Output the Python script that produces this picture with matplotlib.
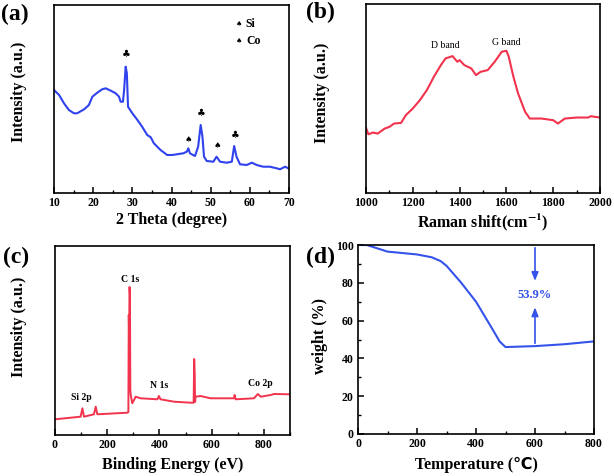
import matplotlib.pyplot as plt
from matplotlib.ticker import MultipleLocator
import numpy as np

# ---- (a) XRD ----
xrd_x = [10, 11.3, 12.55, 13.8, 15.1, 15.9, 17.7, 18.9, 19.8, 21.05, 22.3, 23.2, 24.5, 25.75,
         26.6, 27.0, 27.6, 27.9, 28.3, 28.6, 28.9, 30.0, 31.3, 32.5, 33.8, 34.7, 35.5, 37.2,
         38.9, 40.2, 43.0, 43.9, 44.3, 44.7, 46.0, 46.8, 47.45, 47.9, 48.3, 49.0, 50.7, 51.5,
         52.4, 54.1, 55.4, 56.0, 56.6, 57.5, 59.2, 60.5, 61.75, 63.4, 65.1, 66.85, 67.7, 69.0, 69.8]
xrd_y = [103, 98, 89.7, 83, 79.7, 79.7, 83.7, 88, 96.3, 100.3, 103.7, 104.7, 102.3, 99.7,
         96.3, 91.3, 91.3, 103, 126.3, 119.7, 86.3, 79.7, 73, 66.3, 58, 55.7, 49.7, 43,
         38, 38, 39.7, 41.3, 44.7, 39.7, 37, 46.3, 68, 56.3, 36.3, 32, 31.3, 36.3,
         31.3, 30.3, 31.3, 47, 36.3, 28.7, 28, 30.3, 28, 26.3, 26.3, 24.7, 23.7, 26.3, 24.7]
si_peaks = [(28.5, 139), (47.5, 80), (56.2, 58)]
co_peaks = [(44.3, 54), (51.8, 47)]

# ---- (b) Raman ----
raman_x = [1000, 1010, 1030, 1050, 1080, 1100, 1120, 1150, 1170, 1200, 1230, 1260, 1290, 1320,
           1340, 1370, 1390, 1400, 1420, 1450, 1470, 1490, 1520, 1550, 1580, 1600, 1610, 1630,
           1650, 1680, 1700, 1750, 1800, 1820, 1850, 1900, 1950, 1960, 2000]
raman_y = [195, 176, 181, 178, 193, 198, 208, 210, 233, 253, 278, 308, 348, 383,
           403, 410, 393, 398, 383, 373, 353, 363, 368, 393, 423, 426, 408, 348,
           298, 243, 223, 223, 218, 208, 223, 226, 226, 230, 226]

# ---- (c) XPS ----
xps_x = [0, 98, 105, 111, 149, 156, 162, 277, 281, 282.5, 284, 285.5, 287, 288.5, 290, 296, 309,
         328, 392, 398, 404, 456, 520, 531, 533, 535, 536.5, 538, 557, 596, 685, 688, 692, 762,
         777, 788, 826, 839, 900]
xps_y = [15.7, 18.3, 26.7, 18.3, 20.7, 28.3, 20.7, 22.3, 23, 120, 100, 148, 140, 45, 40, 31.7,
         38.3, 36.7, 35.7, 39, 35.7, 33.3, 32.3, 32.3, 76, 61, 33, 38.3, 39, 36.7, 36.7, 40, 35.7,
         36.7, 41, 38.3, 40, 41, 40.7]
xps_labels = [("C 1s", 287, 156), ("Si 2p", 102, 37), ("N 1s", 400, 50), ("Co 2p", 785, 52)]

# ---- (d) TGA ----
tga_x = [0, 30, 50, 100, 200, 250, 280, 300, 350, 400, 450, 480, 500, 600, 700, 800]
tga_y = [100, 100, 99, 96.5, 95, 93.5, 91.5, 89, 80, 70, 57, 49, 46, 46.5, 47.5, 49]

SERIF = ['Liberation Serif', 'DejaVu Sans']
plt.rcParams['font.family'] = SERIF
plt.rcParams['font.weight'] = 'bold'
plt.rcParams['mathtext.fontset'] = 'stix'

BLUE = '#2f42ee'
BLUE_D = '#3553ea'
RED = '#f2334d'

fig = plt.figure(figsize=(6.14, 4.76), dpi=100)


def rect(l, t, r, b):
    return [l / 614, 1 - b / 476, (r - l) / 614, (b - t) / 476]


def style(ax, xmaj, xmin, ylabel_x, ylabel_y, xlabel_y):
    for s in ax.spines.values():
        s.set_linewidth(1.2)
    ax.xaxis.set_major_locator(MultipleLocator(xmaj))
    ax.xaxis.set_minor_locator(MultipleLocator(xmin))
    ax.tick_params(axis='x', which='major', direction='in', length=4, width=1.1,
                   labelsize=8.5, pad=3)
    ax.tick_params(axis='x', which='minor', direction='in', length=2, width=1)
    ax.yaxis.set_label_coords(ylabel_x, ylabel_y)
    ax.xaxis.set_label_coords(0.5, xlabel_y)


# (a)
ax = fig.add_axes(rect(54, 5, 289, 193))
ax.plot(xrd_x, xrd_y, color=BLUE, lw=1.5)
for x, y in si_peaks:
    ax.text(x, y, '\u2663', ha='center', va='center', fontsize=7, family=['DejaVu Sans'])
for x, y in co_peaks:
    ax.text(x, y, '\u2660', ha='center', va='center', fontsize=6, family=['DejaVu Sans'])
ax.text(57.3, 169, '\u2660', ha='center', va='center', fontsize=5, family=['DejaVu Sans'])
ax.text(59, 169, 'Si', ha='left', va='center', fontsize=8.5)
ax.text(57.3, 152, '\u2660', ha='center', va='center', fontsize=5, family=['DejaVu Sans'])
ax.text(59, 152, 'Co', ha='left', va='center', fontsize=8.5)
ax.set_xlim(10, 70)
ax.set_ylim(0, 188)
ax.set_yticks([])
ax.set_xlabel('2 Theta (degree)', fontsize=11.5, fontweight='bold')
ax.set_ylabel('Intensity (a.u.)', fontsize=11.5, fontweight='bold')
style(ax, 10, 5, -0.115, 0.54, -0.1)

# (b)
ax = fig.add_axes(rect(366, 4, 600, 193))
ax.plot(raman_x, raman_y, color=RED, lw=1.5)
ax.text(1339, 443, 'D band', ha='center', va='center', fontsize=7, fontweight='normal')
ax.text(1598, 450, 'G band', ha='center', va='center', fontsize=7, fontweight='normal')
ax.set_xlim(1000, 2000)
ax.set_ylim(0, 566)
ax.set_yticks([])
ax.set_xlabel(r'Raman shift(cm$^{\mathbf{-1}}$)', fontsize=11.5, fontweight='bold')
ax.set_ylabel('Intensity (a.u.)', fontsize=11.5, fontweight='bold')
style(ax, 200, 100, -0.154, 0.53, -0.1)

# (c)
ax = fig.add_axes(rect(55, 246, 290, 435))
ax.plot(xps_x, xps_y, color=RED, lw=1.4)
for lab, x, y in xps_labels:
    ax.text(x, y, lab, ha='center', va='center', fontsize=7)
ax.set_xlim(0, 900)
ax.set_ylim(0, 189)
ax.set_yticks([])
ax.set_xlabel('Binding Energy (eV)', fontsize=11.5, fontweight='bold')
ax.set_ylabel('Intensity (a.u.)', fontsize=11.5, fontweight='bold')
style(ax, 200, 100, -0.119, 0.57, -0.115)

# (d)
ax = fig.add_axes(rect(358, 245, 594, 434))
ax.plot(tga_x, tga_y, color=BLUE_D, lw=1.5)
ax.annotate('', xy=(600, 79.5), xytext=(600, 100),
            arrowprops=dict(arrowstyle='-|>,head_length=0.5,head_width=0.2', color=BLUE_D, lw=1.2))
ax.annotate('', xy=(600, 68.5), xytext=(600, 46.5),
            arrowprops=dict(arrowstyle='-|>,head_length=0.5,head_width=0.2', color=BLUE_D, lw=1.2))
ax.text(600, 73.8, '53.9%', ha='center', va='center', fontsize=9, color=BLUE_D)
ax.set_xlim(0, 800)
ax.set_ylim(0, 100)
ax.yaxis.set_major_locator(MultipleLocator(20))
ax.yaxis.set_minor_locator(MultipleLocator(10))
ax.tick_params(axis='y', which='major', direction='in', length=4, width=1.1, labelsize=8.5, pad=3)
ax.tick_params(axis='y', which='minor', direction='in', length=2, width=1)
ax.set_xlabel('Temperature (\u2103)', fontsize=11.5, fontweight='bold')
ax.set_ylabel('weight (%)', fontsize=11.5, fontweight='bold')
style(ax, 200, 100, -0.125, 0.52, -0.122)

for lab, x, y in [('(a)', 1, 14), ('(b)', 306, 12), ('(c)', 3, 257), ('(d)', 306, 257)]:
    fig.text(x / 614, 1 - y / 476, lab, ha='left', va='center', fontsize=17, fontweight='bold')

fig.savefig('out.png', dpi=100)
